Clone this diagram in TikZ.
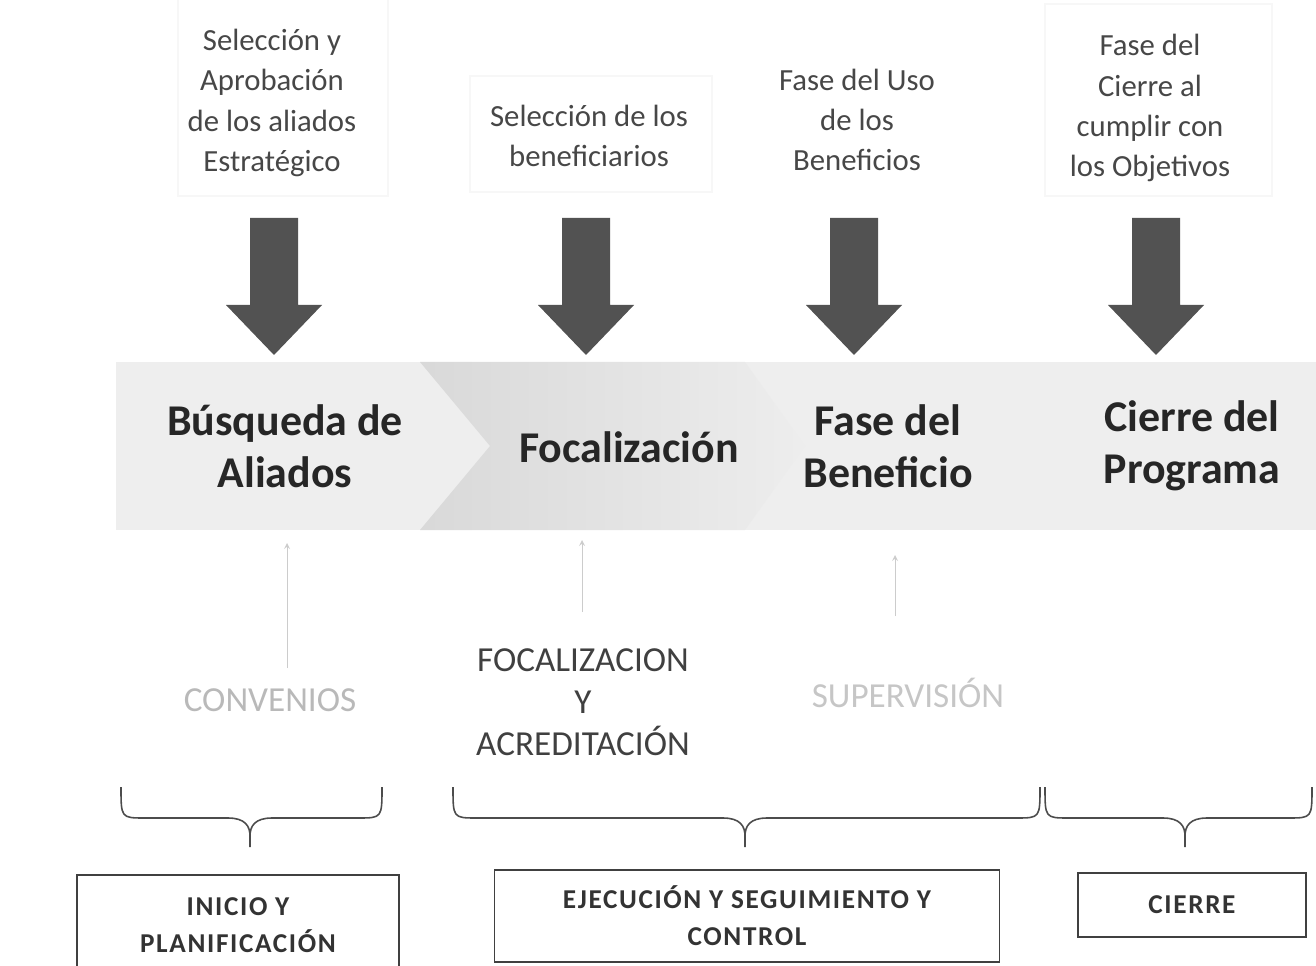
\documentclass[tikz,border=0pt]{standalone}
\usepackage{fontspec}
\setmainfont{Carlito}
\newfontfamily\boxfont[LetterSpace=6]{Carlito}
\usetikzlibrary{positioning}

\tikzset{
  toptext/.style={align=center, text=black!72, font=\fontsize{17.5}{22.8}\selectfont},
  steptext/.style={align=center, text=black!85, font=\bfseries\fontsize{25}{29.6}\selectfont},
  sublabel/.style={align=center, font=\fontsize{20}{24}\selectfont},
  phasebox/.style={draw=black!75, line width=0.7pt, align=center, text=black!80,
    font=\boxfont\bfseries\fontsize{15.5}{21}\selectfont},
  bigarrow/.style={fill=black!68},
  uparrow/.style={->, >=stealth, draw=gray!40, line width=0.5pt},
  bracepath/.style={draw=black!70, line width=0.9pt},
  faintbox/.style={draw=gray!6, line width=0.6pt}
}

\newcommand\phasebrace[3]{%
  \draw[bracepath] (#1,787) .. controls (#1,818) .. (#1+24,818) -- (#2-22,818)
    .. controls (#2-5,818) and (#2,826) .. (#2,836) -- (#2,847);
  \draw[bracepath] (#2,836) .. controls (#2,826) and (#2+5,818) .. (#2+22,818)
    -- (#3-24,818) .. controls (#3,818) .. (#3,787);
}

\begin{document}
\begin{tikzpicture}[x=0.02cm, y=-0.02cm]
  \useasboundingbox (0,0) rectangle (1316,966);

  % band of phases
  \fill[gray!13] (116,362) rectangle (1316,530);
  \shade[left color=gray!30, right color=gray!14]
    (420,362) -- (745,362) -- (805,446) -- (745,530) -- (420,530) -- (490,446) -- cycle;

  \node[steptext] (busq) at (285,446) {Búsqueda de\\Aliados};
  \node[steptext] (foco) at (629,447) {Focalización};
  \node[steptext] (fase) at (888,446) {Fase del\\Beneficio};
  \node[steptext] (cier) at (1192,446) {Cierre del\\Programa};

  % texts on top
  \draw[faintbox] (178,-5) rectangle (388,196);
  \draw[faintbox] (470,76) rectangle (712,192);
  \draw[faintbox] (1045,4) rectangle (1272,196);
  \node[toptext] (apro) at (272,103) {Selección y\\Aprobación\\de los aliados\\Estratégico};
  \node[toptext] (bene) at (589,136) {Selección de los\\beneficiarios};
  \node[toptext] (usob) at (857,120) {Fase del Uso\\de los\\Beneficios};
  \node[toptext] (obje) at (1150,108) {Fase del\\Cierre al\\cumplir con\\los Objetivos};

  \foreach \x in {274,586,854,1156}
    \fill[bigarrow] (\x-24,218) -- (\x+24,218) -- (\x+24,305) -- (\x+48,305)
      -- (\x,355) -- (\x-48,305) -- (\x-24,305) -- cycle;

  % activities under the band
  \node[sublabel, text=gray!55] (conv) at (270,700) {CONVENIOS};
  \node[sublabel, text=black!75] (acre) at (583,702) {FOCALIZACION\\Y\\ACREDITACIÓN};
  \node[sublabel, text=gray!45] (supe) at (908,693) {SUPERVISIÓN};

  \coordinate (c1) at (287,668);  \coordinate (b1) at (287,543);
  \coordinate (c2) at (582,612);  \coordinate (b2) at (582,540);
  \coordinate (c3) at (895,616);  \coordinate (b3) at (895,555);
  \draw[uparrow] (c1) -- (b1);
  \draw[uparrow] (c2) -- (b2);
  \draw[uparrow] (c3) -- (b3);

  \phasebrace{121}{250}{382}
  \phasebrace{453}{745}{1040}
  \phasebrace{1045}{1185}{1312}

  % stages
  \node[phasebox, minimum width=6.44cm, minimum height=2cm] (inic) at (238,925) {INICIO Y\\PLANIFICACIÓN};
  \node[phasebox, minimum width=10.1cm, minimum height=1.84cm] (ejec) at (747,916) {EJECUCIÓN Y SEGUIMIENTO Y\\CONTROL};
  \node[phasebox, minimum width=4.56cm, minimum height=1.28cm] (cerr) at (1192,905) {CIERRE};
\end{tikzpicture}
\end{document}
